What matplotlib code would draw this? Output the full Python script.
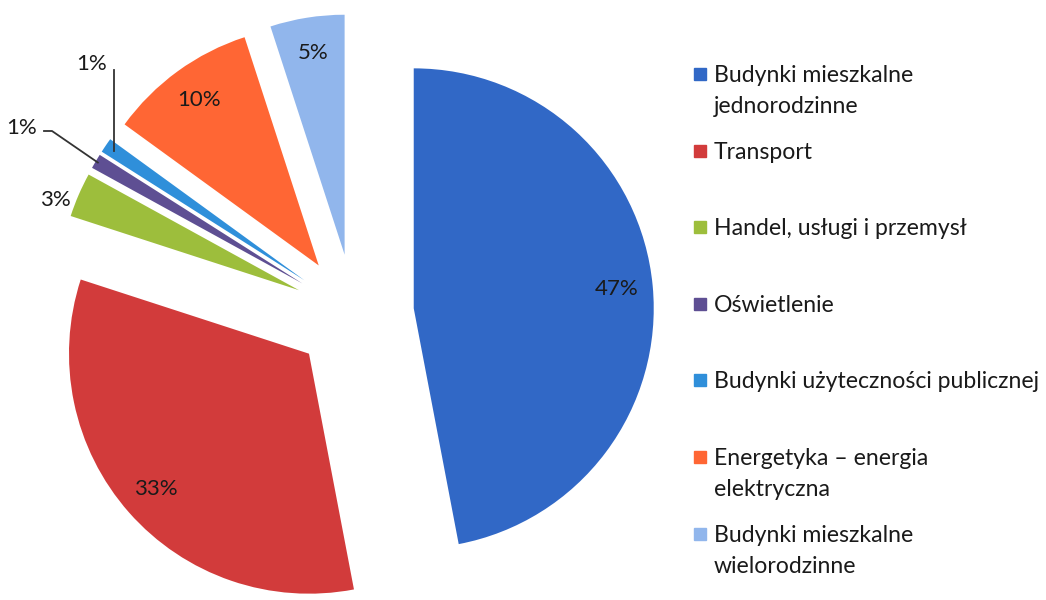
import numpy as np
import matplotlib.pyplot as plt
from matplotlib.patches import Rectangle

labels = ['Budynki mieszkalne\njednorodzinne', 'Transport', 'Handel, usługi i przemysł',
          'Oświetlenie', 'Budynki użyteczności publicznej',
          'Energetyka – energia\nelektryczna', 'Budynki mieszkalne\nwielorodzinne']
shares = [47, 33, 3, 1, 1, 10, 5]
colors = ['#3168C6', '#D23B3B', '#9DBE3C', '#5E4F93', '#2F8FDA', '#FF6634', '#91B6EC']

plt.rcParams['font.family'] = ['Lato', 'DejaVu Sans']

W, H = 1046, 600
R = 240.0            # pixels per unit radius
cx, cy = 354, 314    # pie centre in pixels (from top-left)


def px(x, y):
    # pixel position -> data coords
    return (x - cx) / R, (cy - y) / R


def pct(p):
    return '%d%%' % round(p) if p > 4 else ''


fig = plt.figure(figsize=(W / 100, H / 100), dpi=100)
ax = fig.add_axes([0, 0, 1, 1])
wedges, texts, autotexts = ax.pie(shares, colors=colors, startangle=90, counterclock=False,
                                  explode=[0.25] * len(shares), autopct=pct, pctdistance=0.85,
                                  textprops=dict(fontsize=16, color='#1a1a1a'))
ax.set_xlim(-cx / R, (W - cx) / R)
ax.set_ylim(-(H - cy) / R, cy / R)
ax.set_aspect('equal')
ax.axis('off')


def edge_point(w, r=1.0):
    t = np.deg2rad((w.theta1 + w.theta2) / 2)
    return w.center[0] + r * np.cos(t), w.center[1] + r * np.sin(t)


# 3% label, outside without line
x, y = px(55, 200)
ax.text(x, y, '3%', ha='center', va='center', fontsize=16, color='#1a1a1a')

# 1% (Oswietlenie) with bent leader line
ex, ey = edge_point(wedges[3], 0.99)
bx, by = px(52, 131)
tx, ty = px(44, 131)
ax.plot([ex, bx, tx], [ey, by, ty], color='#333333', lw=1.3)
lx, ly = px(22, 128)
ax.text(lx, ly, '1%', ha='center', va='center', fontsize=16, color='#1a1a1a')

# 1% (uzytecznosci publicznej) with vertical leader line
ex, ey = edge_point(wedges[4], 0.96)
_, ty = px(0, 70)
ax.plot([ex, ex], [ey, ty], color='#333333', lw=1.3)
lx, ly = px(92, 64)
ax.text(lx, ly, '1%', ha='center', va='center', fontsize=16, color='#1a1a1a')

# legend drawn by hand, Excel style
for i, (lab, col) in enumerate(zip(labels, colors)):
    yc = 74 + i * 76.6
    fig.patches.append(Rectangle((694 / W, 1 - (yc + 6) / H), 12 / W, 12 / H,
                                 transform=fig.transFigure, color=col))
    for j, line in enumerate(lab.split('\n')):
        fig.text(714 / W, 1 - (yc + 8 + j * 31) / H, line, ha='left', va='baseline',
                 fontsize=16.6, color='#1a1a1a')

plt.savefig('out.png', dpi=100)
